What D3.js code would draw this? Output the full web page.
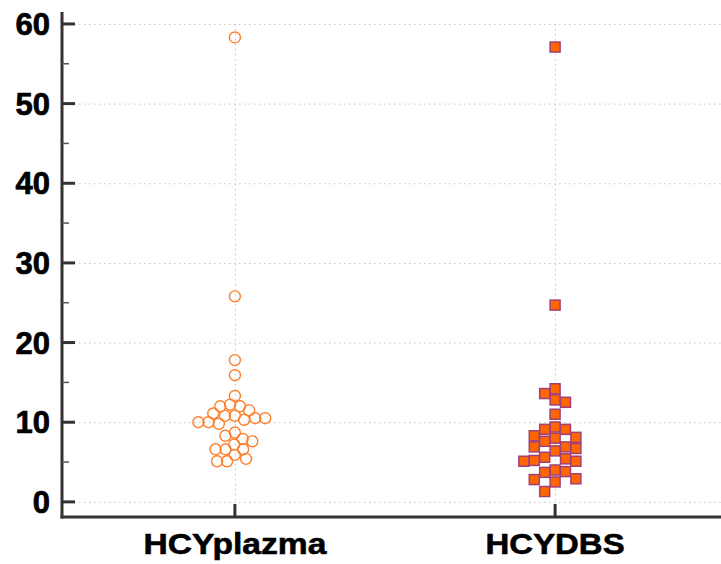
<!DOCTYPE html>
<html><head><meta charset="utf-8">
<script src="https://cdn.jsdelivr.net/npm/d3@7"></script>
<style>body{margin:0;background:#fff}svg{display:block}</style>
</head><body><svg id="c" width="721" height="564"></svg>
<script>
const categories = ["HCYplazma", "HCYDBS"];
const hcyPlazma = [58.3, 25.8, 17.8, 15.9, 13.3, 12.2, 12.0, 12.0, 11.5, 11.1, 10.8, 10.8, 10.5, 10.5, 10.3, 10.0, 10.0, 9.8, 8.7, 8.3, 7.9, 7.6, 7.2, 6.6, 6.6, 6.6, 5.9, 5.4, 5.1, 5.1];
const hcyDBS = [57.1, 24.7, 14.2, 13.6, 12.8, 12.5, 11.0, 9.4, 9.1, 9.1, 8.3, 8.1, 8.0, 7.6, 6.9, 6.9, 6.7, 6.4, 5.6, 5.4, 5.2, 5.1, 5.1, 4.0, 3.8, 3.7, 2.9, 2.8, 2.5, 1.3];
const yTicks = [0, 10, 20, 30, 40, 50, 60];
const yMinorTicks = [5, 15, 25, 35, 45, 55];

const svg = d3.select("#c");
const x = d3.scalePoint().domain(categories).range([62, 728]).padding(0.54);
const y = d3.scaleLinear().domain([-1.9, 61.5]).range([517, 12]);
const left = 62, bottom = 517;

// grid
const grid = svg.append("g").attr("stroke", "#c4c4c4").attr("stroke-width", 1).attr("stroke-dasharray", "1.5,3.5");
grid.selectAll("line.h").data(yTicks).join("line").attr("class", "h")
  .attr("x1", left + 2).attr("x2", 721).attr("y1", d => y(d) + 0.5).attr("y2", d => y(d) + 0.5);
grid.selectAll("line.v").data(categories).join("line").attr("class", "v")
  .attr("x1", d => Math.round(x(d)) + 0.5).attr("x2", d => Math.round(x(d)) + 0.5)
  .attr("y1", y(60)).attr("y2", bottom);

// swarm layout
function swarm(vals, cx, hw) {
  const placed = [];
  vals.forEach(v => {
    const py = y(v);
    const ints = [];
    placed.forEach(p => {
      const w = hw(Math.abs(p.y - py));
      if (w > 0) ints.push([p.x - w, p.x + w]);
    });
    const cands = [cx];
    ints.forEach(i => { cands.push(i[0], i[1]); });
    cands.sort((a, b) => Math.abs(a - cx) - Math.abs(b - cx));
    let best = cx;
    for (const c of cands) {
      if (ints.every(i => c <= i[0] + 1e-6 || c >= i[1] - 1e-6)) { best = c; break; }
    }
    placed.push({x: best, y: py, v});
  });
  return placed;
}
const r = 6.2, dC = 10, s = 11.5, dS = 10.4;
const circPts = swarm(hcyPlazma, x("HCYplazma"), dy => dy < dC ? Math.sqrt(dC * dC - dy * dy) : 0);
const sqPts = swarm(hcyDBS, x("HCYDBS"), dy => dy < dS ? dS : 0);

svg.append("g").selectAll("circle").data(circPts).join("circle")
  .attr("cx", d => d.x).attr("cy", d => d.y).attr("r", r - 0.7)
  .attr("fill", "none").attr("stroke", "#ff7f2a").attr("stroke-width", 1.4);
svg.append("g").selectAll("rect").data(sqPts).join("rect")
  .attr("x", d => d.x - s / 2 + 0.75).attr("y", d => d.y - s / 2 + 0.75)
  .attr("width", s - 1.5).attr("height", s - 1.5)
  .attr("fill", "#ff6600").attr("stroke", "#a0407a").attr("stroke-width", 1.5);

// axes
const ax = svg.append("g").attr("stroke", "#333");
ax.append("line").attr("x1", left).attr("x2", left).attr("y1", 12).attr("y2", bottom + 1.5).attr("stroke-width", 3);
ax.append("line").attr("x1", left - 1.5).attr("x2", 721).attr("y1", bottom).attr("y2", bottom).attr("stroke-width", 3);
ax.selectAll("line.mj").data(yTicks).join("line").attr("class", "mj")
  .attr("x1", left).attr("x2", left + 13).attr("y1", d => y(d)).attr("y2", d => y(d)).attr("stroke-width", 3);
ax.selectAll("line.mn").data(yMinorTicks).join("line").attr("class", "mn")
  .attr("x1", left).attr("x2", left + 7).attr("y1", d => y(d)).attr("y2", d => y(d)).attr("stroke-width", 1.5).attr("stroke", "#555");
ax.selectAll("line.xt").data(categories).join("line").attr("class", "xt")
  .attr("x1", d => x(d)).attr("x2", d => x(d)).attr("y1", bottom).attr("y2", bottom - 13).attr("stroke-width", 3);

svg.append("g").selectAll("text").data(yTicks).join("text")
  .attr("x", 50).attr("y", d => y(d) + 11).attr("text-anchor", "end")
  .attr("font-family", "Liberation Sans, Arial, sans-serif").attr("font-weight", "bold").attr("font-size", 31)
  .attr("fill", "#000").attr("stroke", "#000").attr("stroke-width", 0.7).text(d => d);

svg.append("g").selectAll("text").data(categories).join("text")
  .attr("x", d => x(d)).attr("y", 554).attr("text-anchor", "middle")
  .attr("font-family", "Liberation Sans, Arial, sans-serif").attr("font-weight", "bold").attr("font-size", 30)
  .attr("fill", "#000").attr("stroke", "#000").attr("stroke-width", 0.6)
  .attr("textLength", d => d === "HCYplazma" ? 183 : 139).attr("lengthAdjust", "spacingAndGlyphs")
  .text(d => d);
</script></body></html>
